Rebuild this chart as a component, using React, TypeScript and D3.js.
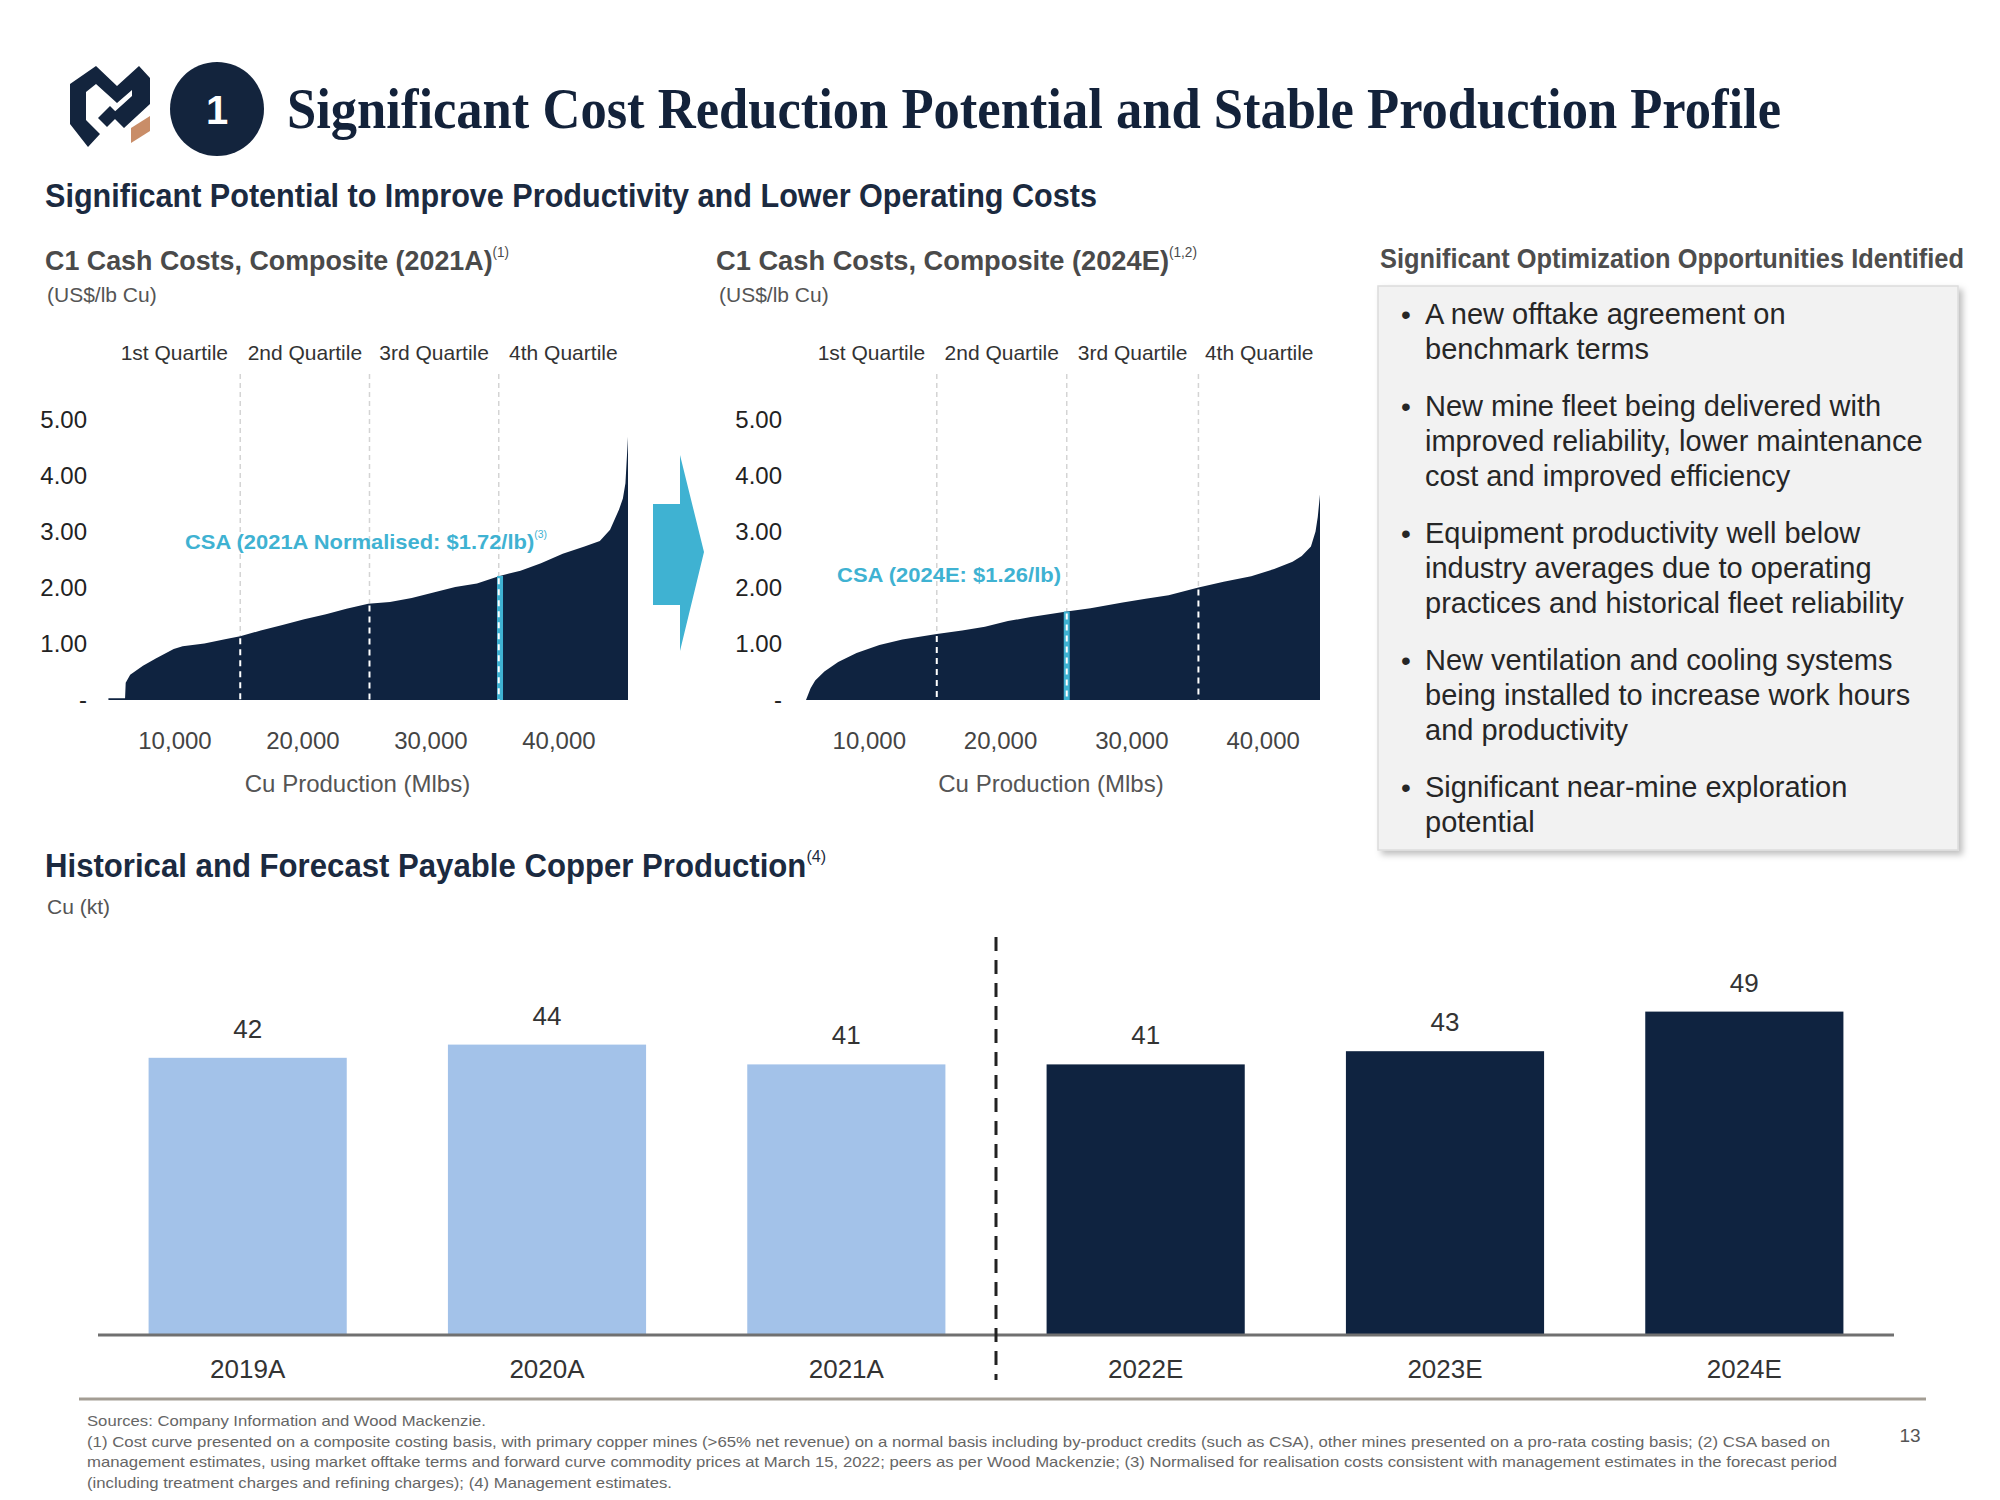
import React from 'react';
import * as d3 from 'd3';

// ---------- DATA ----------
// C1 cash cost curve 2021A (cumulative Cu production Mlbs, US$/lb)
const cost2021Mlbs = [4800, 6100, 6150, 6500, 7500, 8500, 9900, 10600, 12300, 14000, 15100, 16700, 18400, 20100, 21800, 23400, 25100, 26800, 28500, 30200, 31900, 33600, 35300, 37000, 38600, 40300, 42000, 43200, 44000, 44700, 45000, 45200, 45400];
const cost2021Usd = [0.03, 0.03, 0.31, 0.45, 0.61, 0.74, 0.91, 0.96, 1.01, 1.09, 1.14, 1.24, 1.34, 1.44, 1.53, 1.63, 1.72, 1.75, 1.82, 1.92, 2.02, 2.08, 2.21, 2.31, 2.44, 2.61, 2.74, 2.84, 3.04, 3.40, 3.60, 3.87, 4.70];
const quartiles2021 = [4800, 15100, 25200, 35300, 45400];
const csa2021 = 35400;

// C1 cash cost curve 2024E
const cost2024Mlbs = [5180, 5530, 5880, 6580, 7630, 9030, 10770, 12520, 15140, 17070, 18810, 20560, 22310, 25040, 26850, 29300, 31050, 32800, 35070, 36990, 39090, 40840, 42240, 42940, 43640, 43990, 44160, 44330];
const cost2024Usd = [0, 0.21, 0.35, 0.51, 0.68, 0.84, 0.98, 1.08, 1.18, 1.24, 1.31, 1.41, 1.48, 1.58, 1.64, 1.74, 1.81, 1.87, 2.01, 2.11, 2.21, 2.34, 2.47, 2.57, 2.74, 3.01, 3.27, 3.67];
const quartiles2024 = [5180, 15140, 25040, 35070, 44330];
const csa2024 = 25040;

const quartileLabels = ['1st Quartile', '2nd Quartile', '3rd Quartile', '4th Quartile'];
const costTicks = [0, 1, 2, 3, 4, 5];
const costTickLabels = ['-', '1.00', '2.00', '3.00', '4.00', '5.00'];
const prodTicks = [10000, 20000, 30000, 40000];

// Payable copper production
const years = ['2019A', '2020A', '2021A', '2022E', '2023E', '2024E'];
const copperKt = [42, 44, 41, 41, 43, 49];
const isForecast = [false, false, false, true, true, true];

const bullets = [
  ['A new offtake agreement on', 'benchmark terms'],
  ['New mine fleet being delivered with', 'improved reliability, lower maintenance', 'cost and improved efficiency'],
  ['Equipment productivity well below', 'industry averages due to operating', 'practices and historical fleet reliability'],
  ['New ventilation and cooling systems', 'being installed to increase work hours', 'and productivity'],
  ['Significant near-mine exploration', 'potential'],
];

const footnotes = [
  'Sources: Company Information and Wood Mackenzie.',
  '(1) Cost curve presented on a composite costing basis, with primary copper mines (>65% net revenue) on a normal basis including by-product credits (such as CSA), other mines presented on a pro-rata costing basis; (2) CSA based on',
  'management estimates, using market offtake terms and forward curve commodity prices at March 15, 2022; peers as per Wood Mackenzie; (3) Normalised for realisation costs consistent with management estimates in the forecast period',
  '(including treatment charges and refining charges); (4) Management estimates.',
];
const footnoteWidths = [399, 1743, 1750, 585];

// ---------- STYLE ----------
const NAVY = '#0f2340';
const CYAN = '#3fb2d2';
const LIGHT_BLUE = '#a3c2e9';
const SANS = '"Liberation Sans", Arial, sans-serif';
const SERIF = '"Liberation Serif", "Times New Roman", serif';

function valueAt(xs: number[], ys: number[], x: number) {
  const i = d3.bisectLeft(xs, x);
  if (i <= 0) return ys[0];
  if (i >= xs.length) return ys[ys.length - 1];
  const t = (x - xs[i - 1]) / (xs[i] - xs[i - 1]);
  return ys[i - 1] + t * (ys[i] - ys[i - 1]);
}

type SupProps = { x: number; y: number; size: number; len: number; fill: string; main: string; sup: string; supSize: number; supDy: number; weight?: string };
function SupText(p: SupProps) {
  return (
    <text x={p.x} y={p.y} fontSize={p.size} fontWeight={p.weight || 'bold'} fill={p.fill} fontFamily={SANS} textLength={p.len} lengthAdjust="spacingAndGlyphs">
      <tspan>{p.main}</tspan>
      {p.sup && <tspan dy={p.supDy} fontSize={p.supSize} fontWeight="normal">{p.sup}</tspan>}
    </text>
  );
}

type CurveProps = {
  xs: number[]; ys: number[]; bounds: number[]; csa: number;
  xScale: d3.ScaleLinear<number, number>; labelRight: number;
  csaText: string; csaSup: string; csaX: number; csaY: number; csaLen: number;
};

const yCost = d3.scaleLinear().domain([0, 5]).range([700, 420]);

function CostCurve(p: CurveProps) {
  const area = d3.area<number>()
    .x((_, i) => p.xScale(p.xs[i]))
    .y0(yCost(0))
    .y1((d) => yCost(d))
    .curve(d3.curveLinear);
  const top = yCost(5.82);
  const inner = p.bounds.slice(1, -1);
  const mids = d3.range(4).map((i) => (p.bounds[i] + p.bounds[i + 1]) / 2);
  const csaVal = valueAt(p.xs, p.ys, p.csa);
  const plotEnd = p.xScale(p.xs[p.xs.length - 1]);
  const axisMid = (p.labelRight + plotEnd) / 2;
  return (
    <g>
      {mids.map((m, i) => (
        <text key={i} x={p.xScale(m)} y={360} textAnchor="middle" fontSize={21} fill="#333" fontFamily={SANS}>{quartileLabels[i]}</text>
      ))}
      {inner.map((b, i) => (
        <line key={'g' + i} x1={p.xScale(b)} x2={p.xScale(b)} y1={top} y2={yCost(valueAt(p.xs, p.ys, b))} stroke="#d4d4d4" strokeWidth={1.5} strokeDasharray="5,4" />
      ))}
      <path d={area(p.ys) || ''} fill={NAVY} />
      <rect x={p.xScale(p.csa) - 3} width={6} y={yCost(csaVal)} height={yCost(0) - yCost(csaVal)} fill={CYAN} />
      {inner.map((b, i) => (
        <line key={'w' + i} x1={p.xScale(b)} x2={p.xScale(b)} y1={yCost(valueAt(p.xs, p.ys, b)) + 2} y2={yCost(0)} stroke="#ffffff" strokeWidth={2} strokeDasharray="6,5" />
      ))}
      {costTicks.map((t, i) => (
        <text key={'y' + i} x={p.labelRight} y={yCost(t) + 8} textAnchor="end" fontSize={24} fill="#222" fontFamily={SANS}>{costTickLabels[i]}</text>
      ))}
      {prodTicks.map((t) => (
        <text key={'x' + t} x={p.xScale(t)} y={749} textAnchor="middle" fontSize={24} fill="#444" fontFamily={SANS}>{d3.format(',')(t)}</text>
      ))}
      <text x={axisMid} y={792} textAnchor="middle" fontSize={24} fill="#555" fontFamily={SANS}>Cu Production (Mlbs)</text>
      <SupText x={p.csaX} y={p.csaY} size={21} len={p.csaLen} fill={CYAN} main={p.csaText} sup={p.csaSup} supSize={10} supDy={-11} />
    </g>
  );
}

export default function App() {
  const xLeft = d3.scaleLinear().domain([0, 45400]).range([47, 628]);
  const xRight = d3.scaleLinear().domain([0, 44330]).range([738, 1320]);

  const xBar = d3.scaleBand<string>().domain(years).range([98, 1894]).paddingInner(0.338).paddingOuter(0.169);
  const yBar = d3.scaleLinear().domain([0, 50]).range([1335, 1005]);
  const sepX = (xBar('2021A') || 0) + xBar.bandwidth() + (xBar.step() - xBar.bandwidth()) / 2;

  let bulletY = 324;
  const bulletLines: { x: number; y: number; t: string; dot: boolean }[] = [];
  bullets.forEach((para, pi) => {
    if (pi > 0) bulletY += 57 - 35;
    para.forEach((line, li) => {
      bulletLines.push({ x: 1425, y: bulletY, t: line, dot: li === 0 });
      bulletY += 35;
    });
  });

  return (
    <svg width={2000} height={1500} style={{ position: 'absolute', left: 0, top: 0, background: '#fff' }}>
      <defs>
        <filter id="shadow" x="-5%" y="-5%" width="115%" height="115%">
          <feDropShadow dx="4" dy="4" stdDeviation="3" floodColor="#000" floodOpacity="0.25" />
        </filter>
      </defs>
      <rect width={2000} height={1500} fill="#fff" />

      {/* Logo */}
      <polygon points="70,84 96,66 117,86 139,66 150,78 150,104 124,128 111,115 132,96 132,90 117,103 96,84 86,92 86,120 100,134 88,147 70,124" fill="#13243d" />
      <polygon points="98,118 110,106 119,115 107,127" fill="#13243d" />
      <polygon points="131,128 150,116 150,131 131,143" fill="#c98d68" />
      <circle cx={217} cy={109} r={47} fill="#13243d" />
      <text x={217} y={124} textAnchor="middle" fontSize={40} fontWeight="bold" fill="#fff" fontFamily={SANS}>1</text>

      {/* Titles */}
      <text x={287} y={128} fontSize={58} fontWeight="bold" fill="#13223a" fontFamily={SERIF} textLength={1494} lengthAdjust="spacingAndGlyphs">Significant Cost Reduction Potential and Stable Production Profile</text>
      <text x={45} y={207} fontSize={33} fontWeight="bold" fill="#1b2a40" fontFamily={SANS} textLength={1052} lengthAdjust="spacingAndGlyphs">Significant Potential to Improve Productivity and Lower Operating Costs</text>

      {/* Left chart headings */}
      <SupText x={45} y={270} size={28} len={464} fill="#4a4a4a" main="C1 Cash Costs, Composite (2021A)" sup="(1)" supSize={14} supDy={-13} />
      <text x={47} y={302} fontSize={21} fill="#555" fontFamily={SANS}>(US$/lb Cu)</text>

      {/* Right chart headings */}
      <SupText x={716} y={270} size={28} len={481} fill="#4a4a4a" main="C1 Cash Costs, Composite (2024E)" sup="(1,2)" supSize={14} supDy={-13} />
      <text x={719} y={302} fontSize={21} fill="#555" fontFamily={SANS}>(US$/lb Cu)</text>

      <CostCurve xs={cost2021Mlbs} ys={cost2021Usd} bounds={quartiles2021} csa={csa2021} xScale={xLeft} labelRight={87}
        csaText="CSA (2021A Normalised: $1.72/lb)" csaSup="(3)" csaX={185} csaY={549} csaLen={362} />
      <CostCurve xs={cost2024Mlbs} ys={cost2024Usd} bounds={quartiles2024} csa={csa2024} xScale={xRight} labelRight={782}
        csaText="CSA (2024E: $1.26/lb)" csaSup="" csaX={837} csaY={582} csaLen={224} />

      {/* Arrow */}
      <polygon points="653,504 680,504 680,455 704,552 680,651 680,605 653,605" fill={CYAN} />

      {/* Right box */}
      <text x={1380} y={268} fontSize={27} fontWeight="bold" fill="#4d4d4d" fontFamily={SANS} textLength={584} lengthAdjust="spacingAndGlyphs">Significant Optimization Opportunities Identified</text>
      <rect x={1378} y={286} width={580} height={564} fill="#f2f2f2" stroke="#dcdcdc" strokeWidth={1.5} filter="url(#shadow)" />
      {bulletLines.map((l, i) => (
        <g key={i}>
          {l.dot && <text x={1401} y={l.y} fontSize={28} fill="#262626" fontFamily={SANS}>•</text>}
          <text x={l.x} y={l.y} fontSize={29} fill="#262626" fontFamily={SANS}>{l.t}</text>
        </g>
      ))}

      {/* Production chart */}
      <SupText x={45} y={877} size={33} len={781} fill="#1b2a40" main="Historical and Forecast Payable Copper Production" sup="(4)" supSize={17} supDy={-15} />
      <text x={47} y={914} fontSize={21} fill="#555" fontFamily={SANS}>Cu (kt)</text>

      {years.map((yr, i) => (
        <g key={yr}>
          <rect x={xBar(yr)} y={yBar(copperKt[i])} width={xBar.bandwidth()} height={yBar(0) - yBar(copperKt[i])} fill={isForecast[i] ? NAVY : LIGHT_BLUE} />
          <text x={(xBar(yr) || 0) + xBar.bandwidth() / 2} y={yBar(copperKt[i]) - 20} textAnchor="middle" fontSize={26} fill="#333" fontFamily={SANS}>{copperKt[i]}</text>
          <text x={(xBar(yr) || 0) + xBar.bandwidth() / 2} y={1378} textAnchor="middle" fontSize={26} fill="#333" fontFamily={SANS}>{yr}</text>
        </g>
      ))}
      <line x1={98} x2={1894} y1={yBar(0)} y2={yBar(0)} stroke="#707070" strokeWidth={3} />
      <line x1={sepX} x2={sepX} y1={937} y2={1380} stroke="#222" strokeWidth={3} strokeDasharray="14,9" />

      {/* Footer */}
      <line x1={79} x2={1926} y1={1399} y2={1399} stroke="#a39d94" strokeWidth={3} />
      {footnotes.map((f, i) => (
        <text key={i} x={87} y={1426 + i * 20.5} fontSize={15} fill="#666" fontFamily={SANS} textLength={footnoteWidths[i]} lengthAdjust="spacingAndGlyphs">{f}</text>
      ))}
      <text x={1910} y={1442} textAnchor="middle" fontSize={19} fill="#555" fontFamily={SANS}>13</text>
    </svg>
  );
}
